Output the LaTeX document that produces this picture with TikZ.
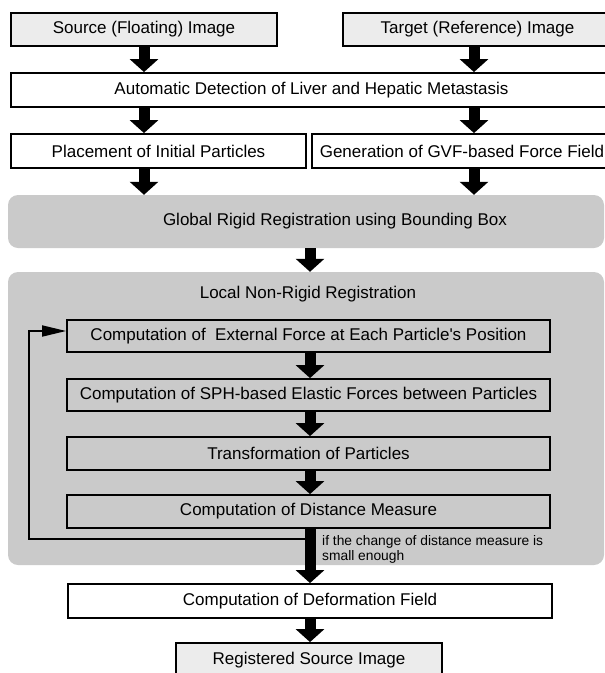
\documentclass[tikz,border=0pt]{standalone}
\usepackage{fontspec}
\setmainfont{Liberation Sans}[Ligatures=TeXOff]
\usepackage{xcolor}
\usetikzlibrary{arrows.meta}

\definecolor{imgfill}{RGB}{236,236,236}
\definecolor{stagefill}{RGB}{202,202,202}

\tikzset{
  plainbox/.style={draw, line width=1.8pt, fill=white, inner sep=0pt,
    font=\fontsize{17}{20}\selectfont},
  imgbox/.style={plainbox, fill=imgfill},
  innerbox/.style={plainbox, fill=none},
  stagebox/.style={fill=stagefill, rounded corners=10pt, inner sep=0pt},
  stagetext/.style={inner sep=0pt, font=\fontsize{17}{20}\selectfont},
  bigarrow/.style={line width=11pt, -{Triangle[width=28pt,length=13pt]}},
  looparrow/.style={line width=1.8pt, -{Triangle[width=11pt,length=24pt]}},
}

\begin{document}
\begin{tikzpicture}[x=1pt, y=-1pt]
    \useasboundingbox (0,0) rectangle (605,673);

    % Input images
    \node[imgbox, minimum width=266, minimum height=33] (src) at (144,29.5) {Source (Floating) Image};
    \node[imgbox, minimum width=269, minimum height=33] (tgt) at (477.5,29.5) {Target (Reference) Image};

    % Detection and preparation
    \node[plainbox, minimum width=601, minimum height=34] (detect) at (311.5,90) {Automatic Detection of Liver and Hepatic Metastasis};
    \node[plainbox, minimum width=295, minimum height=34] (place) at (158.5,151) {Placement of Initial Particles};
    \node[plainbox, minimum width=300, minimum height=34] (gvf) at (462,151) {Generation of GVF-based Force Field};

    % Global rigid stage
    \node[stagebox, minimum width=596, minimum height=53] (global) at (306,221.5) {};
    \node[stagetext] (globaltxt) at (335,221.5) {Global Rigid Registration using Bounding Box};

    % Local non-rigid stage
    \node[stagebox, minimum width=596, minimum height=293] (local) at (306,418.5) {};
    \node[stagetext] (localtxt) at (308,294) {Local Non-Rigid Registration};

    \node[innerbox, minimum width=483, minimum height=32] (extforce) at (308.5,336) {Computation of\ \ External Force at Each Particle's Position};
    \node[innerbox, minimum width=483, minimum height=32] (sphforce) at (308.5,395) {Computation of SPH-based Elastic Forces between Particles};
    \node[innerbox, minimum width=483, minimum height=33] (transform) at (308.5,453.5) {Transformation of Particles};
    \node[innerbox, minimum width=483, minimum height=33] (distance) at (308.5,511.5) {Computation of Distance Measure};

    % Output
    \node[plainbox, minimum width=484, minimum height=34] (deform) at (310,601) {Computation of Deformation Field};
    \node[imgbox, minimum width=266, minimum height=35] (result) at (309,660.5) {Registered Source Image};

    % Arrows between the upper boxes
    \draw[bigarrow] (src.south) -- (detect.north -| src.south);
    \draw[bigarrow] (tgt.south -| 474,0) -- (detect.north -| 474,0);
    \draw[bigarrow] (detect.south -| src.south) -- (place.north -| src.south);
    \draw[bigarrow] (detect.south -| 474,0) -- (gvf.north -| 474,0);
    \draw[bigarrow] (place.south -| src.south) -- (global.north -| src.south);
    \draw[bigarrow] (gvf.south -| 474,0) -- (global.north -| 474,0);
    \draw[bigarrow] (global.south -| 310,0) -- (local.north -| 310,0);

    % Arrows inside the loop
    \draw[bigarrow] (extforce.south -| 310,0) -- (sphforce.north -| 310,0);
    \draw[bigarrow] (sphforce.south -| 310,0) -- (transform.north -| 310,0);
    \draw[bigarrow] (transform.south -| 310,0) -- (distance.north -| 310,0);

    % Feedback loop
    \coordinate (loopstart) at (308,539);
    \coordinate (loopcorner) at (29,539);
    \draw[looparrow] (loopstart) -- (loopcorner) |- ([yshift=5pt]extforce.west);

    % Exit of the loop
    \draw[bigarrow] (distance.south -| 310,0) -- (deform.north -| 310,0);
    \node[anchor=north west, inner sep=0pt, align=left,
      font=\fontsize{13.8}{15}\selectfont] (stopnote) at (322,535)
      {if the change of distance measure is\\small enough};

    \draw[bigarrow] (deform.south -| 310,0) -- (result.north -| 310,0);
\end{tikzpicture}
\end{document}
